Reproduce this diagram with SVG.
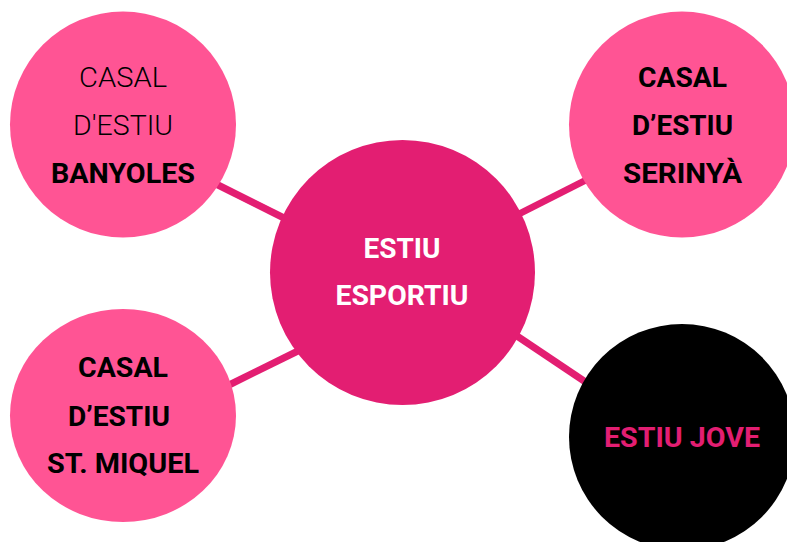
<svg xmlns="http://www.w3.org/2000/svg" width="787" height="542" viewBox="0 0 787 542">
<style>
.outer{fill:#FF5494}
.center{fill:#E31E72}
.dark{fill:#000}
.link{stroke:#E31E72;stroke-width:7;stroke-linecap:butt}
text{font-family:Roboto,"Liberation Sans",sans-serif;font-size:28px;text-anchor:middle}
.b{font-weight:700;fill:#000}
.l{font-weight:300;fill:#000}
.w{font-weight:700;fill:#fff}
.p{font-weight:700;fill:#E31E72}
</style>
<rect width="787" height="542" fill="#fff"/>
<g id="connectors">
<line class="link" x1="210" y1="181" x2="290" y2="221"/>
<line class="link" x1="513" y1="217" x2="592" y2="177"/>
<line class="link" x1="225" y1="387" x2="304" y2="348"/>
<line class="link" x1="511" y1="332" x2="590" y2="385"/>
</g>
<g id="estiu-esportiu">
<circle class="center" cx="402.5" cy="272.5" r="132.5"/>
<text class="w" x="402" y="258" textLength="77" lengthAdjust="spacingAndGlyphs">ESTIU</text>
<text class="w" x="402" y="305" textLength="133" lengthAdjust="spacingAndGlyphs">ESPORTIU</text>
</g>
<g id="casal-banyoles">
<circle class="outer" cx="123" cy="124.5" r="113"/>
<text class="l" x="123" y="87" textLength="88" lengthAdjust="spacingAndGlyphs">CASAL</text>
<text class="l" x="123" y="135" textLength="100" lengthAdjust="spacingAndGlyphs">D'ESTIU</text>
<text class="b" x="123" y="183" textLength="144" lengthAdjust="spacingAndGlyphs">BANYOLES</text>
</g>
<g id="casal-serinya">
<circle class="outer" cx="682" cy="124.5" r="113"/>
<text class="b" x="682.5" y="87" textLength="89" lengthAdjust="spacingAndGlyphs">CASAL</text>
<text class="b" x="682.5" y="135" textLength="101" lengthAdjust="spacingAndGlyphs">D’ESTIU</text>
<text class="b" x="682.5" y="183" textLength="119" lengthAdjust="spacingAndGlyphs">SERINYÀ</text>
</g>
<g id="casal-st-miquel">
<ellipse class="outer" cx="123" cy="415.5" rx="113" ry="106.5"/>
<text class="b" x="123" y="377" textLength="90" lengthAdjust="spacingAndGlyphs">CASAL</text>
<text class="b" x="119" y="426" textLength="102" lengthAdjust="spacingAndGlyphs">D’ESTIU</text>
<text class="b" x="123" y="473" textLength="152" lengthAdjust="spacingAndGlyphs">ST. MIQUEL</text>
</g>
<g id="estiu-jove">
<circle class="dark" cx="682" cy="437" r="113"/>
<text class="p" x="682" y="447" textLength="156" lengthAdjust="spacingAndGlyphs">ESTIU JOVE</text>
</g>
</svg>
